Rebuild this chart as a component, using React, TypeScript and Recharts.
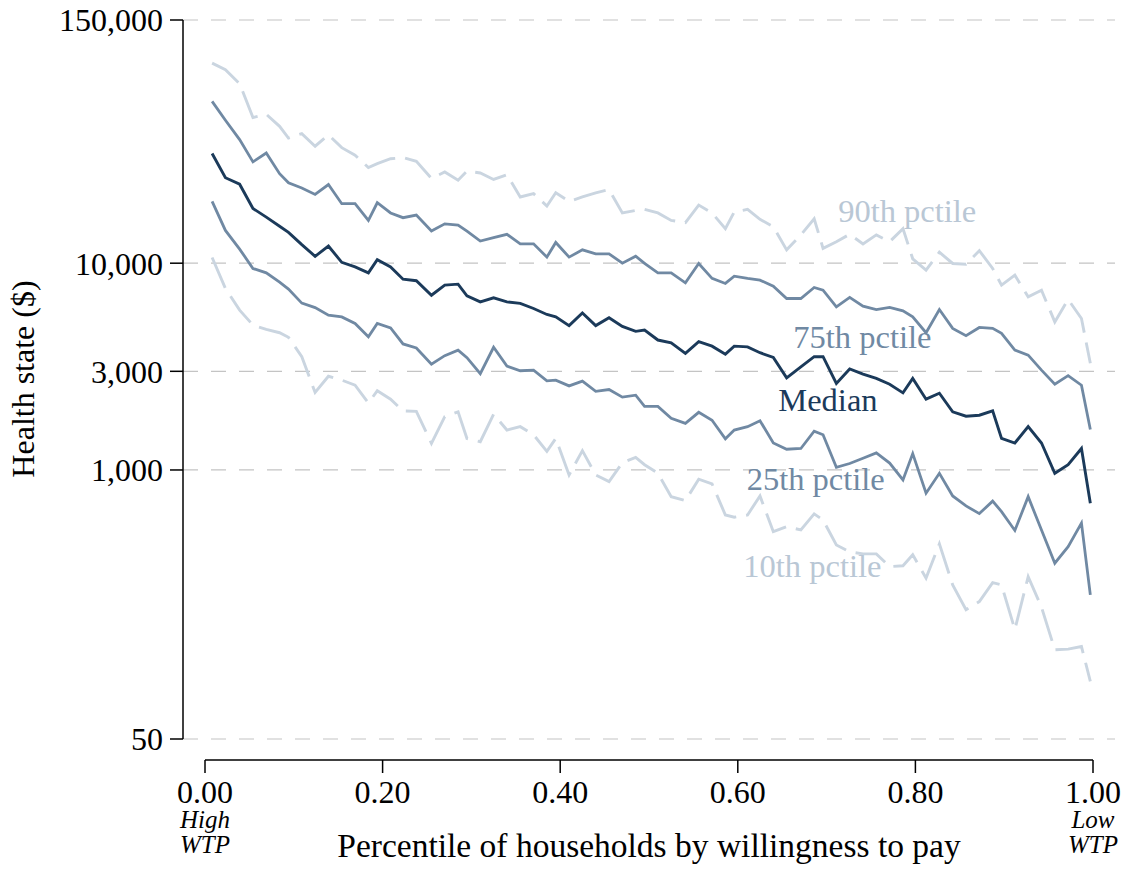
import {
  LineChart, Line, XAxis, YAxis, CartesianGrid, ReferenceLine, ReferenceDot,
} from "recharts";

const W = 1130;
const H = 869;
const FONT = '"Liberation Serif", "Times New Roman", serif';

const C_MED = "#1b3a5a";
const C_QUART = "#7089a3";
const C_DEC = "#cad5e0";
const C_DEC_TEXT = "#b9c7d5";

// percentile of households by willingness to pay
const pctile = [
  0.008, 0.023, 0.039, 0.054, 0.069, 0.084, 0.094, 0.109, 0.124, 0.139,
  0.154, 0.169, 0.184, 0.194, 0.209, 0.223, 0.238, 0.255, 0.270, 0.285,
  0.295, 0.310, 0.325, 0.340, 0.355, 0.370, 0.385, 0.395, 0.410, 0.425,
  0.440, 0.455, 0.470, 0.485, 0.495, 0.510, 0.525, 0.541, 0.556, 0.571,
  0.586, 0.596, 0.611, 0.625, 0.640, 0.655, 0.671, 0.686, 0.696, 0.711,
  0.726, 0.741, 0.756, 0.771, 0.786, 0.797, 0.812, 0.827, 0.842, 0.857,
  0.872, 0.887, 0.897, 0.912, 0.927, 0.942, 0.957, 0.972, 0.987, 0.997,
];

const p90 = [
  92800, 86200, 73800, 50600, 52500, 45900, 40300, 42300, 36800, 41800,
  36200, 33300, 29000, 30300, 32000, 32400, 31100, 25700, 27600, 25200,
  27900, 27300, 25400, 26800, 20900, 21700, 18900, 21900, 19900, 20900,
  21900, 22700, 17500, 18000, 18200, 17500, 16100, 15700, 19100, 17500,
  14700, 17700, 18200, 16300, 15000, 11600, 13700, 16400, 11800, 12700,
  13800, 12400, 13700, 12700, 14700, 10500, 9250, 11300, 9970, 9890,
  11500, 9430, 7830, 8750, 6880, 7400, 5200, 6680, 5400, 3280,
];

const p75 = [
  60600, 49100, 39600, 30900, 34100, 27100, 24500, 23100, 21500, 24000,
  19400, 19400, 16100, 19600, 17500, 16600, 17100, 14300, 15500, 15300,
  14300, 12800, 13300, 13800, 12400, 12400, 10700, 12600, 10700, 11600,
  11100, 11100, 10000, 10800, 9970, 8980, 8980, 8030, 9970, 8440,
  7980, 8650, 8440, 8280, 7740, 6750, 6750, 7630, 7400, 6150,
  6830, 6200, 5970, 6110, 5880, 5500, 4610, 5970, 4840, 4460,
  4890, 4840, 4580, 3800, 3590, 3040, 2600, 2860, 2570, 1570,
];

const p50 = [
  33900, 25900, 24100, 18400, 16700, 15100, 14100, 12300, 10800, 12100,
  10100, 9600, 8980, 10400, 9600, 8370, 8230, 7000, 7830, 7920,
  6950, 6500, 6800, 6500, 6390, 6040, 5650, 5500, 4990, 5750,
  4990, 5450, 4950, 4680, 4750, 4250, 4120, 3660, 4170, 3970,
  3630, 3970, 3940, 3690, 3500, 2790, 3150, 3530, 3530, 2620,
  3080, 2910, 2770, 2600, 2360, 2770, 2200, 2350, 1910, 1820,
  1840, 1930, 1420, 1350, 1620, 1350, 964, 1060, 1270, 690,
];

const p25 = [
  19900, 14400, 11700, 9430, 8980, 8100, 7490, 6410, 6100, 5610,
  5500, 5110, 4410, 5110, 4860, 4070, 3890, 3250, 3570, 3800,
  3490, 2920, 3920, 3180, 3020, 3040, 2700, 2720, 2550, 2690,
  2400, 2450, 2250, 2300, 2030, 2030, 1780, 1680, 1900, 1740,
  1415, 1560, 1620, 1730, 1350, 1260, 1270, 1540, 1480, 1030,
  1075, 1140, 1210, 1080, 895, 1200, 772, 964, 749, 670,
  615, 707, 629, 510, 743, 512, 354, 426, 553, 249,
];

const p10 = [
  10650, 7550, 5930, 5020, 4780, 4610, 4380, 3530, 2370, 2840,
  2720, 2570, 2110, 2415, 2200, 1930, 1920, 1345, 1810, 1910,
  1420, 1370, 1860, 1560, 1620, 1480, 1230, 1420, 946, 1240,
  946, 878, 1085, 1150, 1060, 964, 743, 711, 902, 856,
  606, 591, 606, 749, 503, 532, 513, 613, 573, 434,
  402, 393, 393, 341, 344, 389, 300, 439, 278, 211,
  231, 285, 278, 169, 305, 217, 135, 136, 140, 95,
];

const xTicks = [0, 0.2, 0.4, 0.6, 0.8, 1];
const yTicks = [50, 1000, 3000, 10000, 150000];

// where the series names sit (start of text, vertical middle)
const seriesLabels = [
  { text: "90th pctile", x: 0.713, y: 17900, color: C_DEC_TEXT },
  { text: "75th pctile", x: 0.6625, y: 4425, color: C_QUART },
  { text: "Median", x: 0.6456, y: 2186, color: C_MED },
  { text: "25th pctile", x: 0.61, y: 905, color: C_QUART },
  { text: "10th pctile", x: 0.6062, y: 345, color: C_DEC_TEXT },
];

const AXIS_Y = 39.6; // x axis line sits a little below the 50 gridline

const data = pctile.map((x, i) => ({
  x,
  p10: p10[i],
  p25: p25[i],
  p50: p50[i],
  p75: p75[i],
  p90: p90[i],
}));

const XTick = ({ x, y, payload }: any) => {
  const v = payload.value;
  const note = v === 0 ? ["High", "WTP"] : v === 1 ? ["Low", "WTP"] : null;
  return (
    <g>
      <line x1={x} x2={x} y1={y + 21} y2={y + 34} stroke="#000" strokeWidth={1.5} />
      <text x={x} y={y + 64} textAnchor="middle" fontSize={32} fontFamily={FONT} fill="#000">
        {v.toFixed(2)}
      </text>
      {note && (
        <>
          <text x={x} y={y + 89} textAnchor="middle" fontSize={25} fontStyle="italic" fontFamily={FONT} fill="#000">
            {note[0]}
          </text>
          <text x={x} y={y + 114} textAnchor="middle" fontSize={25} fontStyle="italic" fontFamily={FONT} fill="#000">
            {note[1]}
          </text>
        </>
      )}
    </g>
  );
};

const XTitle = () => (
  <text x={649} y={857} textAnchor="middle" fontSize={33.5} fontFamily={FONT} fill="#000">
    Percentile of households by willingness to pay
  </text>
);

const YTitle = () => (
  <text
    x={34}
    y={379}
    transform="rotate(-90 34 379)"
    textAnchor="middle"
    fontSize={32}
    fontFamily={FONT}
    fill="#000"
  >
    Health state ($)
  </text>
);

export default function App() {
  return (
    <div style={{ position: "absolute", left: 0, top: 0, background: "#fff" }}>
      <LineChart
        width={W}
        height={H}
        data={data}
        margin={{ top: 20, right: 15, bottom: 0, left: 0 }}
      >
        <CartesianGrid vertical={false} stroke="#c4c4c4" strokeWidth={1.2} strokeDasharray="15 13" />
        <XAxis
          type="number"
          dataKey="x"
          domain={[0, 1]}
          ticks={xTicks}
          interval={0}
          padding={{ left: 22, right: 22 }}
          height={130}
          axisLine={false}
          tickLine={false}
          tickSize={0}
          tickMargin={0}
          tick={<XTick />}
          label={<XTitle />}
        />
        <YAxis
          type="number"
          scale="log"
          domain={[50, 150000]}
          allowDataOverflow
          ticks={yTicks}
          interval={0}
          width={183}
          tickSize={13}
          tickMargin={7}
          axisLine={{ stroke: "#000", strokeWidth: 1.5 }}
          tickLine={{ stroke: "#000", strokeWidth: 1.5 }}
          tick={{ fill: "#000", fontSize: 32, fontFamily: FONT }}
          tickFormatter={(v: number) => v.toLocaleString("en-US")}
          label={<YTitle />}
        />
        <ReferenceLine
          segment={[{ x: 0, y: AXIS_Y }, { x: 1, y: AXIS_Y }]}
          stroke="#000"
          strokeWidth={1.5}
          ifOverflow="visible"
        />
        <Line type="linear" dataKey="p90" stroke={C_DEC} strokeWidth={2.9} strokeDasharray="33 10" dot={false} isAnimationActive={false} />
        <Line type="linear" dataKey="p10" stroke={C_DEC} strokeWidth={2.9} strokeDasharray="33 10" dot={false} isAnimationActive={false} />
        <Line type="linear" dataKey="p75" stroke={C_QUART} strokeWidth={2.8} dot={false} isAnimationActive={false} />
        <Line type="linear" dataKey="p25" stroke={C_QUART} strokeWidth={2.8} dot={false} isAnimationActive={false} />
        <Line type="linear" dataKey="p50" stroke={C_MED} strokeWidth={2.9} dot={false} isAnimationActive={false} />
        {seriesLabels.map((s) => (
          <ReferenceDot
            key={s.text}
            x={s.x}
            y={s.y}
            r={0}
            fill="none"
            stroke="none"
            label={{
              value: s.text,
              position: "right",
              offset: 0,
              fill: s.color,
              fontSize: 32.5,
              fontFamily: FONT,
            }}
          />
        ))}
      </LineChart>
    </div>
  );
}
